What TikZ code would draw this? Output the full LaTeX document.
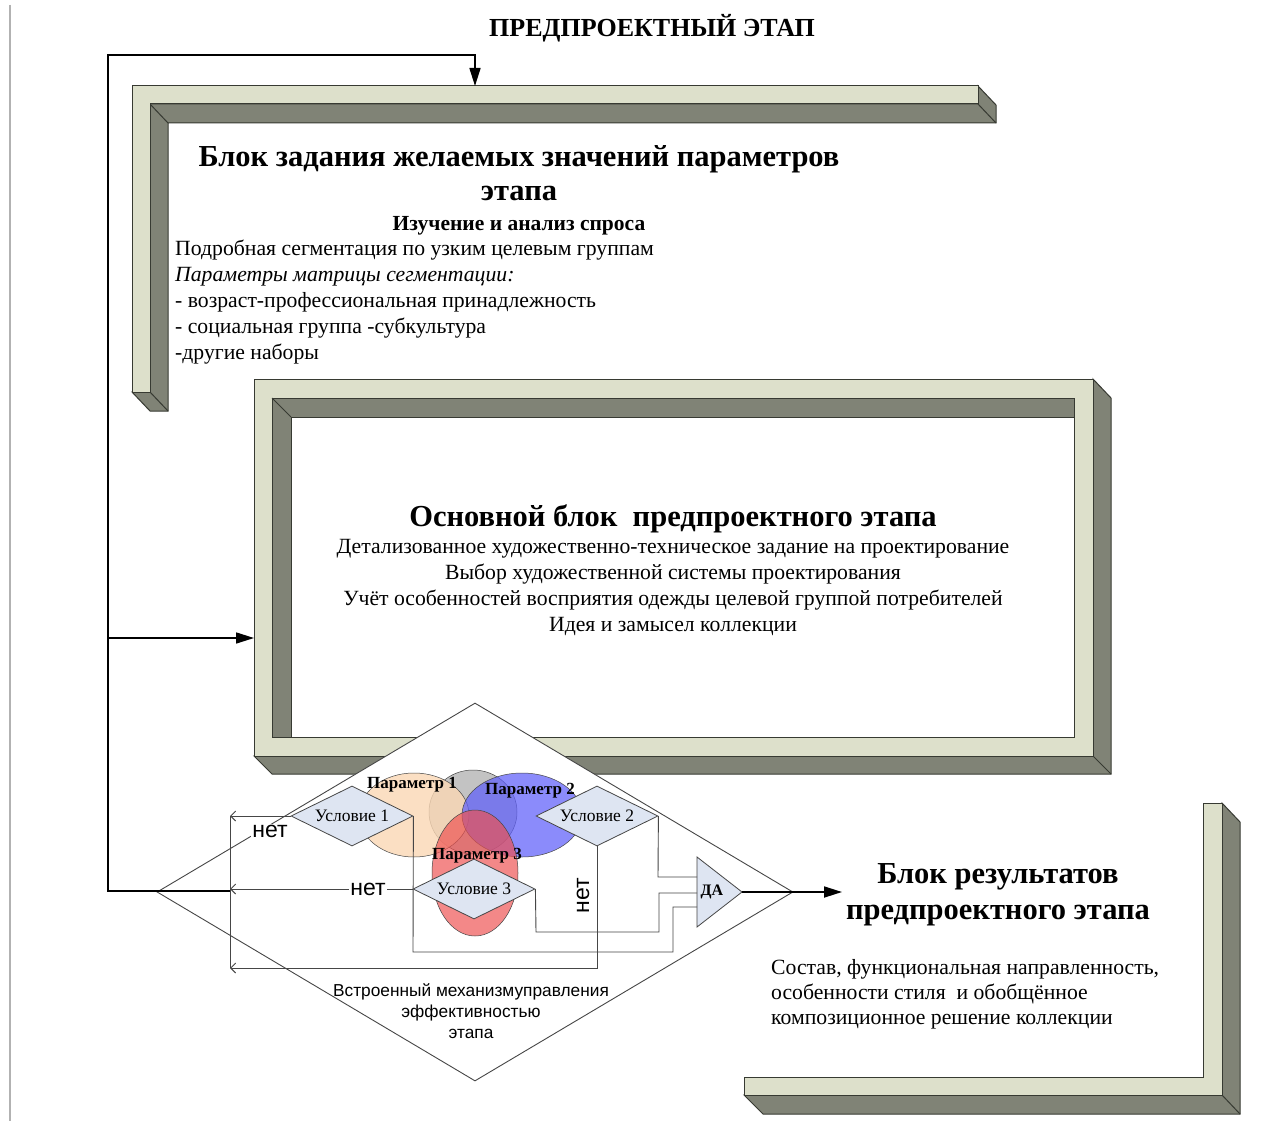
\documentclass[tikz,border=0pt]{standalone}
\usepackage{fontspec}
\setmainfont{Liberation Serif}
\newfontfamily\arialf{Liberation Sans}
\usetikzlibrary{arrows.meta,shapes.geometric}
\definecolor{beamlight}{RGB}{221,224,203}
\definecolor{beamdark}{RGB}{128,131,118}
\definecolor{beamedge}{RGB}{55,58,50}
\definecolor{condfill}{RGB}{222,229,242}
\definecolor{peach}{RGB}{250,215,180}
\definecolor{pblue}{RGB}{95,95,250}
\definecolor{pred}{RGB}{238,80,80}
\definecolor{pgray}{RGB}{195,195,195}
\definecolor{mline}{RGB}{70,70,70}
\tikzset{
  face/.style={fill=beamlight,draw=beamedge,line width=1pt},
  side/.style={fill=beamdark,draw=beamedge,line width=1pt},
  edgeln/.style={draw=beamedge,line width=1pt},
  cond/.style={diamond,draw=mline,fill=condfill,line width=0.8pt,shape aspect=2,
    minimum width=122pt,minimum height=60pt,inner sep=0pt,font=\fontsize{17.5}{19}\selectfont},
  wire/.style={draw=mline,line width=0.9pt},
  fbline/.style={draw=black,line width=1.6pt},
  bigarrow/.style={-{Triangle[length=18pt,width=11pt]}},
  openarr/.style={-{Straight Barb[length=5pt,width=10pt]}},
  netlbl/.style={font=\arialf\fontsize{23}{25}\selectfont,fill=white,inner sep=1pt},
  param/.style={font=\bfseries\fontsize{17}{19}\selectfont,inner sep=0pt},
  ttl/.style={font=\bfseries\fontsize{30.5}{34}\selectfont,anchor=base,inner sep=0pt},
  bodyc/.style={font=\fontsize{21.7}{26}\selectfont,anchor=base,inner sep=0pt},
  bodyl/.style={font=\fontsize{21.7}{26}\selectfont,anchor=base west,inner sep=0pt},
}
\begin{document}
\begin{tikzpicture}[x=1pt,y=-1pt]
\useasboundingbox (0,0) rectangle (1285,1121);
\fill[white] (0,0) rectangle (1285,1121);
\draw[gray!60,line width=1.5pt] (10,5) -- (10,1121);

% ---- top bracket
\filldraw[side] (150,104) -- (978,104) -- (978,86) -- (996,105) -- (996,123) -- (168,123)
  -- (168,411) -- (150,411) -- (132,392) -- (150,392) -- cycle;
\draw[edgeln] (150,104) -- (168,123) (978,104) -- (996,123) (150,392) -- (168,411);
\filldraw[face] (132,86) -- (978,86) -- (978,104) -- (150,104) -- (150,392) -- (132,392) -- cycle;

% ---- main frame
\filldraw[side] (1093,379) -- (1111,398) -- (1111,774) -- (272,774) -- (254,756) -- (1093,756) -- cycle;
\draw[edgeln] (1093,756) -- (1111,774);
\filldraw[face,even odd rule] (254,379) rectangle (1093,756) (272,398) rectangle (1074,737);
\filldraw[side] (272,398) -- (1074,398) -- (1074,417) -- (291,417) -- (291,737) -- (272,737) -- cycle;
\draw[edgeln] (272,398) -- (291,417);

% ---- results bracket
\filldraw[side] (1222,803) -- (1240,822) -- (1240,1114) -- (763,1114) -- (744,1095) -- (1222,1095) -- cycle;
\draw[edgeln] (1222,1095) -- (1240,1114);
\filldraw[face] (1203,803) -- (1222,803) -- (1222,1095) -- (744,1095) -- (744,1077) -- (1203,1077) -- cycle;

% ---- mechanism diamond
\node[diamond,draw=mline,fill=white,line width=0.9pt,minimum width=636pt,minimum height=378pt,inner sep=0pt] (mech) at (475,892) {};

% ---- venn ellipses
\filldraw[fill=pgray,draw=mline,line width=0.5pt] (473,812) ellipse [x radius=44,y radius=42];
\filldraw[fill=peach,fill opacity=0.8,draw=mline,line width=0.5pt] (414,815) ellipse [x radius=55,y radius=42];
\filldraw[fill=pblue,fill opacity=0.72,draw=mline,line width=0.5pt] (522,815) ellipse [x radius=60,y radius=42];
\filldraw[fill=pred,fill opacity=0.68,draw=mline,line width=0.5pt] (475,873) ellipse [x radius=43,y radius=63];
\node[param] (p1) at (412,785) {Параметр 1};
\node[param] (p2) at (530,791) {Параметр 2};
\node[param] (p3) at (477,856) {Параметр 3};

% ---- conditions
\node[cond] (u1) at (352,816) {Условие 1};
\node[cond] (u2) at (597,816) {Условие 2};
\node[cond] (u3) at (474,889) {Условие 3};

% ---- ДА
\filldraw[fill=condfill,draw=mline,line width=0.8pt] (697,857) -- (742,892) -- (697,927) -- cycle;
\node[font=\bfseries\fontsize{16}{18}\selectfont,inner sep=0pt] (da) at (712,892) {ДА};
\coordinate (dain1) at (697,877);
\coordinate (dain2) at (697,893);
\coordinate (dain3) at (697,907);
\coordinate (datip) at (742,892);

% ---- wires
\draw[wire] (u2.east) -- (658,877) -- (dain1);
\draw[wire] (u3.east) -- (536,932) -- (659,932) -- (659,893) -- (dain2);
\draw[wire] (u1.east) -- (413,952) -- (673,952) -- (673,907) -- (dain3);

\coordinate (fb1) at (230,816);
\coordinate (fb3) at (230,889);
\coordinate (fb4) at (230,968);
\coordinate (fbj) at (230,891);
\draw[wire] (fb1) -- (fb4);
\draw[wire,openarr] (u1.west) -- (fb1);
\draw[wire,openarr] (u3.west) -- (fb3);
\draw[wire,openarr] (u2.south) -- (597,968) -- (fb4);

\node[netlbl] (net1) at (270,831) {нет};
\node[netlbl] (net3) at (368,889) {нет};
\node[netlbl,rotate=90,fill=none] (net2) at (583,896) {нет};

% ---- feedback loop
\coordinate (fbL) at (108,891);
\coordinate (fbmid) at (108,638);
\coordinate (fbtop) at (108,55);
\coordinate (topin) at (475,86);
\coordinate (mainin) at (254,638);
\draw[fbline,bigarrow] (fbj) -- (fbL) -- (fbtop) -| (topin);
\draw[fbline,bigarrow] (fbmid) -- (mainin);

% ---- output
\coordinate (outend) at (842,892);
\draw[line width=1.8pt,bigarrow] (datip) -- (mech.east) -- (outend);

% ---- texts
\node[font=\bfseries\fontsize{26}{28}\selectfont,anchor=base,inner sep=0pt] (title) at (652,37) {ПРЕДПРОЕКТНЫЙ ЭТАП};

\node[ttl] (t1) at (519,167) {Блок задания желаемых значений параметров};
\node[ttl] (t2) at (519,200) {этапа};
\node[font=\bfseries\fontsize{21.5}{24}\selectfont,anchor=base,inner sep=0pt] (t3) at (519,230) {Изучение и анализ спроса};
\node[bodyl] (t4) at (175,255) {Подробная сегментация по узким целевым группам};
\node[bodyl,font=\itshape\fontsize{21.7}{26}\selectfont] (t5) at (175,281) {Параметры матрицы сегментации:};
\node[bodyl] (t6) at (175,307) {- возраст-профессиональная принадлежность};
\node[bodyl] (t7) at (175,333) {- социальная группа -субкультура};
\node[bodyl] (t8) at (175,359) {-другие наборы};

\node[ttl] (m1) at (673,526) {Основной блок\ \ предпроектного этапа};
\node[bodyc] (m2) at (673,553) {Детализованное художественно-техническое задание на проектирование};
\node[bodyc] (m3) at (673,579) {Выбор художественной системы проектирования};
\node[bodyc] (m4) at (673,605) {Учёт особенностей восприятия одежды целевой группой потребителей};
\node[bodyc] (m5) at (673,631) {Идея и замысел коллекции};

\node[ttl] (r1) at (998,883) {Блок результатов};
\node[ttl] (r2) at (998,919) {предпроектного этапа};
\node[bodyl] (r3) at (771,974) {Состав, функциональная направленность,};
\node[bodyl] (r4) at (771,999) {особенности стиля\ \ и обобщённое};
\node[bodyl] (r5) at (771,1024) {композиционное решение коллекции};

\node[font=\arialf\fontsize{17.3}{21}\selectfont,align=center,inner sep=0pt] (mtext) at (471,1011)
  {Встроенный механизмуправления\\эффективностью\\этапа};
\end{tikzpicture}
\end{document}
